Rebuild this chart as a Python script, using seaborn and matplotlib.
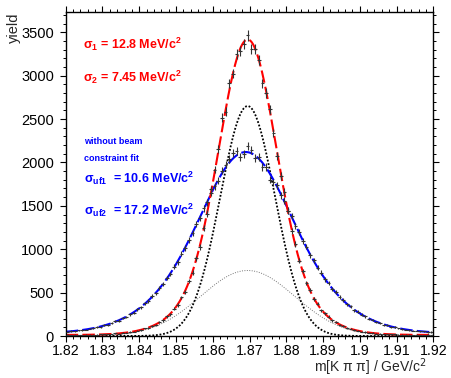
import numpy as np
import pandas as pd
import matplotlib
matplotlib.use('Agg')
import matplotlib.pyplot as plt
import seaborn as sns

# K pi pi invariant mass, 1 MeV bins from 1.82 to 1.92 GeV/c^2
bin_centers = np.linspace(1.8205, 1.9195, 100)

# yields with beam constraint (red fit)
red_yield = [14, 12, 15, 13, 11, 16, 14, 17, 15, 19,
             18, 23, 22, 29, 28, 36, 37, 47, 50, 62,
             68, 87, 95, 118, 130, 162, 180, 225, 252, 315,
             358, 445, 512, 632, 728, 895, 1025, 1240, 1410, 1690,
             1918, 2160, 2515, 2586, 2910, 3024, 3245, 3280, 3370, 3463,
             3310, 3310, 3177, 2910, 2800, 2610, 2340, 2071, 1842, 1660,
             1440, 1205, 1060, 868, 750, 610, 530, 425, 372, 298,
             262, 222, 180, 160, 130, 117, 95, 86, 68, 62,
             50, 47, 37, 35, 28, 28, 23, 22, 18, 19,
             16, 17, 14, 15, 13, 14, 12, 13, 14, 12]

# yields without beam constraint (blue fit)
blue_yield = [48, 57, 55, 66, 70, 72, 86, 88, 103, 106,
              125, 131, 146, 170, 178, 208, 219, 252, 268, 310,
              330, 378, 405, 461, 490, 556, 596, 668, 715, 800,
              852, 950, 1012, 1110, 1182, 1290, 1360, 1470, 1540, 1650,
              1725, 1790, 1905, 1975, 2040, 2105, 2130, 2060, 2095, 2185,
              2145, 2055, 2060, 1945, 1950, 1800, 1770, 1735, 1620, 1560,
              1445, 1380, 1270, 1200, 1095, 1030, 930, 872, 785, 730,
              652, 610, 540, 505, 446, 415, 366, 340, 298, 278,
              244, 228, 198, 186, 160, 152, 130, 124, 106, 102,
              88, 84, 73, 71, 61, 60, 52, 52, 46, 46]

# double gaussian fit parameters (sigma in GeV)
red_mean, red_bkg = 1.8695, 12
red_amp1, red_sigma1 = 755, 0.0128
red_amp2, red_sigma2 = 2650, 0.00745
blue_mean, blue_bkg = 1.8690, 30
blue_amp1, blue_sigma1 = 990, 0.0106
blue_amp2, blue_sigma2 = 1100, 0.0172

xtick_vals = [1.82, 1.83, 1.84, 1.85, 1.86, 1.87, 1.88, 1.89, 1.90, 1.91, 1.92]
xtick_labels = ['1.82', '1.83', '1.84', '1.85', '1.86', '1.87', '1.88', '1.89', '1.9', '1.91', '1.92']
ytick_vals = [0, 500, 1000, 1500, 2000, 2500, 3000, 3500]


def gaus(x, amp, mean, sigma):
    return amp * np.exp(-0.5 * ((x - mean) / sigma) ** 2)


sns.set_style('ticks')
plt.rcParams['font.family'] = ['Liberation Sans', 'DejaVu Sans']
plt.rcParams['mathtext.fontset'] = 'custom'
plt.rcParams['mathtext.rm'] = 'Liberation Sans:bold'
plt.rcParams['mathtext.it'] = 'Liberation Sans:bold'
plt.rcParams['mathtext.bf'] = 'Liberation Sans:bold'
plt.rcParams['mathtext.default'] = 'rm'

W, H = 451, 378
fig = plt.figure(figsize=(W / 100, H / 100), dpi=100)
ax = fig.add_axes([65.7 / W, 1 - 336 / H, (433.3 - 65.7) / W, (336 - 12.3) / H])

xs = np.linspace(1.82, 1.92, 600)
curves = pd.DataFrame({
    'x': xs,
    'red': gaus(xs, red_amp1, red_mean, red_sigma1) + gaus(xs, red_amp2, red_mean, red_sigma2) + red_bkg,
    'narrow': gaus(xs, red_amp2, red_mean, red_sigma2),
    'wide': gaus(xs, red_amp1, red_mean, red_sigma1),
    'blue': gaus(xs, blue_amp1, blue_mean, blue_sigma1) + gaus(xs, blue_amp2, blue_mean, blue_sigma2) + blue_bkg,
})

sns.lineplot(data=curves, x='x', y='wide', ax=ax, color='#777777', lw=0.7,
             linestyle=(0, (1, 1.5)), zorder=2)
sns.lineplot(data=curves, x='x', y='narrow', ax=ax, color='black', lw=1.3,
             linestyle=(0, (1, 1)), zorder=2)
sns.lineplot(data=curves, x='x', y='blue', ax=ax, color='#0000ff', lw=1.5,
             linestyle=(0, (6, 2)), zorder=2)
sns.lineplot(data=curves, x='x', y='red', ax=ax, color='#ff0000', lw=1.5,
             linestyle=(0, (6, 2)), zorder=2)

for yields in (red_yield, blue_yield):
    y = np.array(yields, dtype=float)
    ax.errorbar(bin_centers, y, xerr=0.0005, yerr=np.sqrt(y), fmt='none',
                ecolor='#333333', elinewidth=0.8, capsize=0, zorder=3)

ax.set_xlim(1.82, 1.92)
ax.set_ylim(0, 3730)
ax.set_xticks(xtick_vals)
ax.set_xticklabels(xtick_labels)
ax.set_yticks(ytick_vals)
ax.set_xticks(np.arange(1.82, 1.9201, 0.002), minor=True)
ax.set_yticks(np.arange(0, 3701, 100), minor=True)
ax.tick_params(which='both', direction='out', top=True, right=True,
               labelsize=10.5, colors='black')
ax.tick_params(axis='x', labelsize=10.2)
ax.tick_params(which='major', length=4.5, width=0.8)
ax.tick_params(which='minor', length=2.5, width=0.7)
ax.tick_params(axis='x', pad=1.5)
ax.tick_params(axis='y', pad=4)
for s in ax.spines.values():
    s.set_linewidth(1.0)
    s.set_color('black')
ax.set_xlabel('')
ax.set_ylabel('')

fig.text(14 / W, 1 - 12.5 / H, 'yield', rotation=90, ha='center', va='top', fontsize=10.5)
fig.text(427 / W, 1 - 372.5 / H, 'm[K π π] / GeV/c$^{2}$', ha='right', va='baseline',
         fontsize=10, math_fontfamily='dejavusans')

txt = dict(fontsize=9, fontweight='bold', ha='left', va='baseline')
fig.text(83 / W, 1 - 49.3 / H, 'σ$_{1}$ = 12.8 MeV/c$^{2}$', color='#ff0000', **txt)
fig.text(83 / W, 1 - 81.7 / H, 'σ$_{2}$ = 7.45 MeV/c$^{2}$', color='#ff0000', **txt)
fig.text(84 / W, 1 - 144.3 / H, 'without beam', color='#0000ff', fontsize=6.5,
         fontweight='bold', ha='left', va='baseline')
fig.text(84 / W, 1 - 161 / H, 'constraint fit', color='#0000ff', fontsize=6.5,
         fontweight='bold', ha='left', va='baseline')
fig.text(84 / W, 1 - 182.7 / H, 'σ$_{uf1}$  = 10.6 MeV/c$^{2}$', color='#0000ff', **txt)
fig.text(84 / W, 1 - 215 / H, 'σ$_{uf2}$  = 17.2 MeV/c$^{2}$', color='#0000ff', **txt)

fig.savefig('out.png', dpi=100)
